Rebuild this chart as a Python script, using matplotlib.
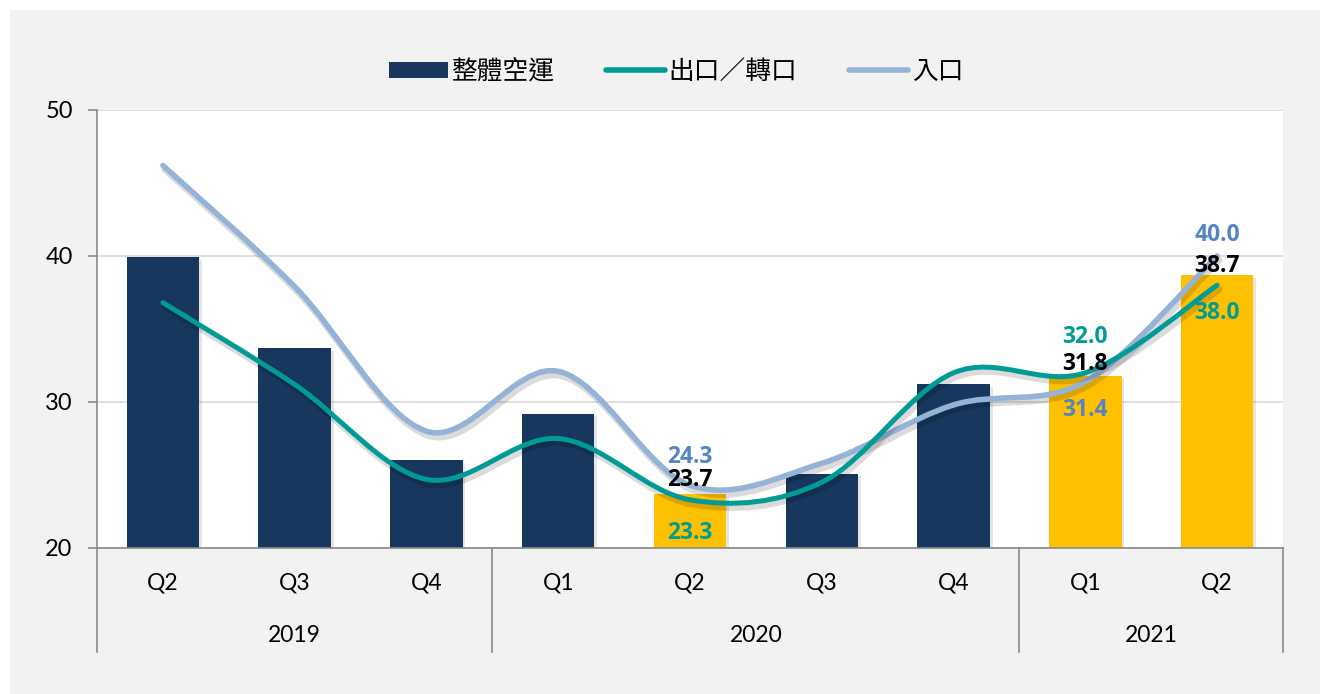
import matplotlib
matplotlib.use("Agg")
import matplotlib.pyplot as plt
import matplotlib.patheffects as pe
from matplotlib.path import Path
from matplotlib.patches import PathPatch, Rectangle, Patch
from matplotlib.lines import Line2D

# data
quarters = ["Q2", "Q3", "Q4", "Q1", "Q2", "Q3", "Q4", "Q1", "Q2"]
years = ["2019", "2020", "2021"]
year_spans = [(0, 2), (3, 6), (7, 8)]   # first and last quarter index of each year
total = [39.9, 33.7, 26.0, 29.2, 23.7, 25.1, 31.2, 31.8, 38.7]
exports = [36.8, 31.2, 24.7, 27.5, 23.3, 24.5, 32.0, 32.0, 38.0]
imports = [46.2, 37.9, 28.0, 32.1, 24.3, 25.8, 29.8, 31.4, 40.0]
labelled = [4, 7, 8]   # quarters with value labels (highlighted bars)

NAVY = "#17375e"
GOLD = "#ffc000"
TEAL = "#009b95"
LIGHTBLUE = "#95b3d7"
BLUE_TXT = "#5584c4"

plt.rcParams["font.family"] = ["Lato", "Noto Sans CJK TC", "DejaVu Sans"]


def smooth_path(xs, ys):
    # excel style smoothed line (catmull-rom as bezier segments)
    pts = list(zip(xs, ys))
    verts = [pts[0]]
    codes = [Path.MOVETO]
    n = len(pts)
    for i in range(n - 1):
        p0 = pts[i - 1] if i > 0 else pts[i]
        p1, p2 = pts[i], pts[i + 1]
        p3 = pts[i + 2] if i + 2 < n else pts[i + 1]
        c1 = (p1[0] + (p2[0] - p0[0]) / 6, p1[1] + (p2[1] - p0[1]) / 6)
        c2 = (p2[0] - (p3[0] - p1[0]) / 6, p2[1] - (p3[1] - p1[1]) / 6)
        verts += [c1, c2, p2]
        codes += [Path.CURVE4] * 3
    return Path(verts, codes)


fig = plt.figure(figsize=(13.2, 6.94), dpi=100, facecolor="white")
fig.patches.append(Rectangle((10 / 1320, 0), 1, 1 - 10 / 694, transform=fig.transFigure,
                             facecolor="#f2f2f2", edgecolor="none", zorder=-10))
ax = fig.add_axes([97 / 1320, 146 / 694, 1186 / 1320, 438 / 694])
ax.set_facecolor("white")

x = list(range(len(quarters)))
colors = [GOLD if i in labelled else NAVY for i in x]
bars = ax.bar(x, total, width=0.55, color=colors, zorder=2)
for b in bars:
    b.set_path_effects([pe.SimplePatchShadow(offset=(2, -2), shadow_rgbFace="k", alpha=0.1), pe.Normal()])

line_fx = [pe.SimpleLineShadow(offset=(1.5, -3), shadow_color="k", alpha=0.14, linewidth=5), pe.Normal()]
ax.add_patch(PathPatch(smooth_path(x, exports), fill=False, edgecolor=TEAL, lw=3.6,
                       capstyle="round", zorder=4, path_effects=line_fx))
ax.add_patch(PathPatch(smooth_path(x, imports), fill=False, edgecolor=LIGHTBLUE, lw=4.0,
                       capstyle="round", zorder=3, path_effects=line_fx))

ax.set_xlim(-0.5, len(quarters) - 0.5)
ax.set_ylim(20, 50)
ax.set_yticks([20, 30, 40, 50])
ax.grid(axis="y", color="#d9d9d9", lw=1.2, zorder=0)
ax.set_axisbelow(True)
for s in ["top", "right"]:
    ax.spines[s].set_visible(False)
ax.spines["left"].set_color("#898989")
ax.spines["bottom"].set_color("#898989")
ax.spines["left"].set_linewidth(1.2)
ax.spines["bottom"].set_linewidth(1.2)
ax.tick_params(axis="y", length=6.5, width=1.2, color="#898989", pad=11, labelsize=17)
ax.tick_params(axis="x", length=0, labelbottom=False)

# value labels (offsets in pixels)
bold = dict(fontsize=16.5, fontweight="bold", ha="center", va="center",
            family=["Open Sans", "DejaVu Sans"])
offsets = {
    4: ((imports[4], 28), (total[4], 14), (exports[4], -33)),
    7: ((imports[7], -28), (total[7], 12), (exports[7], 36)),
    8: ((imports[8], 21), (total[8], 9), (exports[8], -28)),
}
for i, ((iv, io), (tv, to), (ev, eo)) in offsets.items():
    ax.annotate(f"{iv:.1f}", (i, iv), xytext=(0, io), textcoords="offset pixels", color=BLUE_TXT, zorder=6, **bold)
    ax.annotate(f"{tv:.1f}", (i, tv), xytext=(0, to), textcoords="offset pixels", color="black", zorder=6, **bold)
    ax.annotate(f"{ev:.1f}", (i, ev), xytext=(0, eo), textcoords="offset pixels", color=TEAL, zorder=6, **bold)

# two level category axis
trans = ax.get_xaxis_transform()
q_y = -35 / 438
yr_y = -87 / 438
for i, q in enumerate(quarters):
    ax.text(i, q_y, q, transform=trans, ha="center", va="center", fontsize=16.5)
edges = [-0.5]
for (a, b), yr in zip(year_spans, years):
    ax.text((a + b) / 2, yr_y, yr, transform=trans, ha="center", va="center", fontsize=16.5)
    edges.append(b + 0.5)
for e in edges:
    ax.plot([e, e], [0, -104 / 438], transform=trans, color="#898989", lw=1.2, clip_on=False)

handles = [Patch(facecolor=NAVY, edgecolor="none"),
           Line2D([], [], color=TEAL, lw=4, solid_capstyle="round"),
           Line2D([], [], color=LIGHTBLUE, lw=4, solid_capstyle="round")]
fig.legend(handles, ["整體空運", "出口／轉口", "入口"], loc="center",
           bbox_to_anchor=(676 / 1320, 1 - 72 / 694), ncol=3, frameon=False,
           prop={"family": ["Noto Sans CJK TC", "DejaVu Sans"], "size": 18.5},
           handlelength=2.3, handleheight=0.6, handletextpad=0.15, columnspacing=2.0)

fig.savefig("out.png", dpi=100, facecolor=fig.get_facecolor())
